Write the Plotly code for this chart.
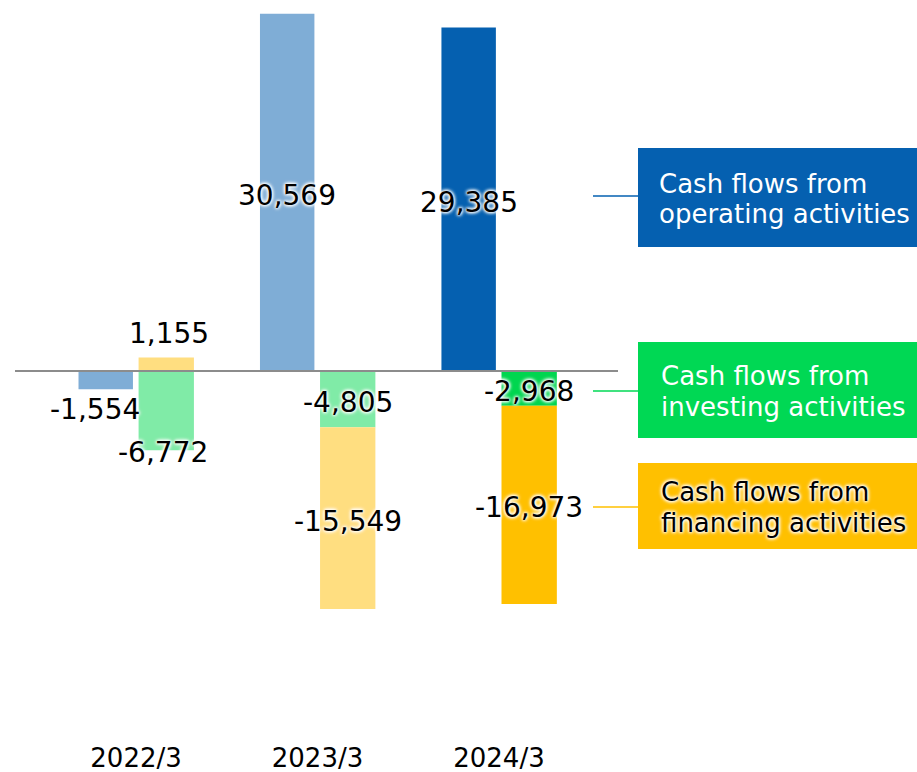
import plotly.graph_objects as go

# ---- data ----
years = ["2022/3", "2023/3", "2024/3"]
operating = [-1554, 30569, 29385]
investing = [-6772, -4805, -2968]
financing = [1155, -15549, -16973]
legend_labels = [
    ["Cash flows from", "operating activities"],
    ["Cash flows from", "investing activities"],
    ["Cash flows from", "financing activities"],
]

# ---- style ----
W, H = 917, 772
ML, MR, MT, MB = 15, 299, 0, 40
PW, PH = W - ML - MR, H - MT - MB
ZERO_PX = 371
PX_PER_UNIT = 0.01169
y_top = (ZERO_PX - MT) / PX_PER_UNIT
y_bot = -(MT + PH - ZERO_PX) / PX_PER_UNIT
x_range = [-0.667, 2.656]

op_colors = ["#7FADD6", "#7FADD6", "#0560B0"]
inv_colors = ["#80EBA7", "#80EBA7", "#00D64F"]
fin_colors = ["#FFDE80", "#FFDE80", "#FFC000"]
FONT = "DejaVu Sans"
GLOW = "0px 0px 3px #fff, 0px 0px 3px #fff, 0px 0px 4px #fff, 0px 0px 4px #fff"

xs = list(range(len(years)))

fig = go.Figure()
fig.add_trace(go.Bar(x=xs, y=operating, base=[0] * 3, offset=-0.317, width=0.3,
                     marker=dict(color=op_colors, line=dict(width=0)), showlegend=False,
                     hoverinfo="skip"))
fig.add_trace(go.Bar(x=xs, y=investing, base=[0] * 3, offset=0.014, width=0.305,
                     marker=dict(color=inv_colors, line=dict(width=0)), showlegend=False,
                     hoverinfo="skip"))
# financing stacks on investing when both negative
fin_base = [0 if f > 0 else (i if i < 0 else 0) for f, i in zip(financing, investing)]
fig.add_trace(go.Bar(x=xs, y=financing, base=fin_base, offset=0.014, width=0.305,
                     marker=dict(color=fin_colors, line=dict(width=0)), showlegend=False,
                     hoverinfo="skip"))


def fmt(v):
    return f"{v:,}"


annotations = []


def label(x, y, v, xshift=0, yshift=0):
    annotations.append(dict(x=x, y=y, xref="x", yref="y", text=fmt(v), showarrow=False,
                            xanchor="center", yanchor="middle", xshift=xshift, yshift=yshift,
                            font=dict(family=FONT, size=28, color="#000", shadow=GLOW)))


op_c = -0.167
inv_c = 0.1665
for i in xs:
    o, iv, f = operating[i], investing[i], financing[i]
    if abs(o) > 5000:
        label(i + op_c, o / 2, o, yshift=-3)
    else:
        label(i + op_c, o, o, xshift=-11, yshift=-20 if o < 0 else 20)
    if f > 0:
        label(i + inv_c, iv, iv, xshift=-3, yshift=-2)
        label(i + inv_c, f, f, xshift=3, yshift=24)
    else:
        label(i + inv_c, iv / 2, iv, yshift=-3)
        label(i + inv_c, iv + f / 2, f, yshift=-3)


def px_x(px):
    return (px - ML) / PW


def px_y(py):
    return (MT + PH - py) / PH


shapes = []
# zero line
shapes.append(dict(type="line", xref="paper", yref="y", x0=0, x1=1, y0=0, y1=0,
                   line=dict(color="#8C8C8C", width=2), layer="above"))

boxes = [
    (148, 247, "#0560B0", "#fff", False, 196, "#0560B0", (193, 223), 657),
    (342, 438, "#00D854", "#fff", False, 391, "#00D854", (385, 416), 659),
    (463, 549, "#FFC000", "#000", True, 507, "#FFC000", (501, 532), 659),
]
for (top, bot, col, tcol, glow, ly, lcol, baselines, tx), lines in zip(boxes, legend_labels):
    shapes.append(dict(type="rect", xref="paper", yref="paper", x0=px_x(638), x1=px_x(920),
                       y0=px_y(bot), y1=px_y(top), fillcolor=col, line=dict(width=0)))
    shapes.append(dict(type="line", xref="paper", yref="paper", x0=px_x(593), x1=px_x(638),
                       y0=px_y(ly), y1=px_y(ly), line=dict(color=lcol, width=1.3)))
    for txt, bl in zip(lines, baselines):
        annotations.append(dict(x=px_x(tx), y=px_y(bl - 9), xref="paper", yref="paper",
                                text=txt, showarrow=False, xanchor="left", yanchor="middle",
                                font=dict(family=FONT, size=26, color=tcol,
                                          shadow=GLOW if glow else "none")))

fig.update_layout(
    width=W, height=H,
    margin=dict(l=ML, r=MR, t=MT, b=MB, pad=0, autoexpand=False),
    paper_bgcolor="white", plot_bgcolor="white",
    barmode="overlay",
    shapes=shapes,
    annotations=annotations,
    xaxis=dict(range=x_range, tickmode="array", tickvals=xs, ticktext=years,
               showgrid=False, zeroline=False, showline=False, ticks="",
               tickfont=dict(family=FONT, size=26, color="#000"),
               ticklabelstandoff=8, automargin=False, fixedrange=True),
    yaxis=dict(range=[y_bot, y_top], showgrid=False, zeroline=False, showline=False,
               showticklabels=False, ticks="", automargin=False, fixedrange=True),
    showlegend=False,
)

fig.write_html("out.html", config={"displayModeBar": False},
               post_script="document.body.style.margin='0';document.body.style.overflow='hidden';")
